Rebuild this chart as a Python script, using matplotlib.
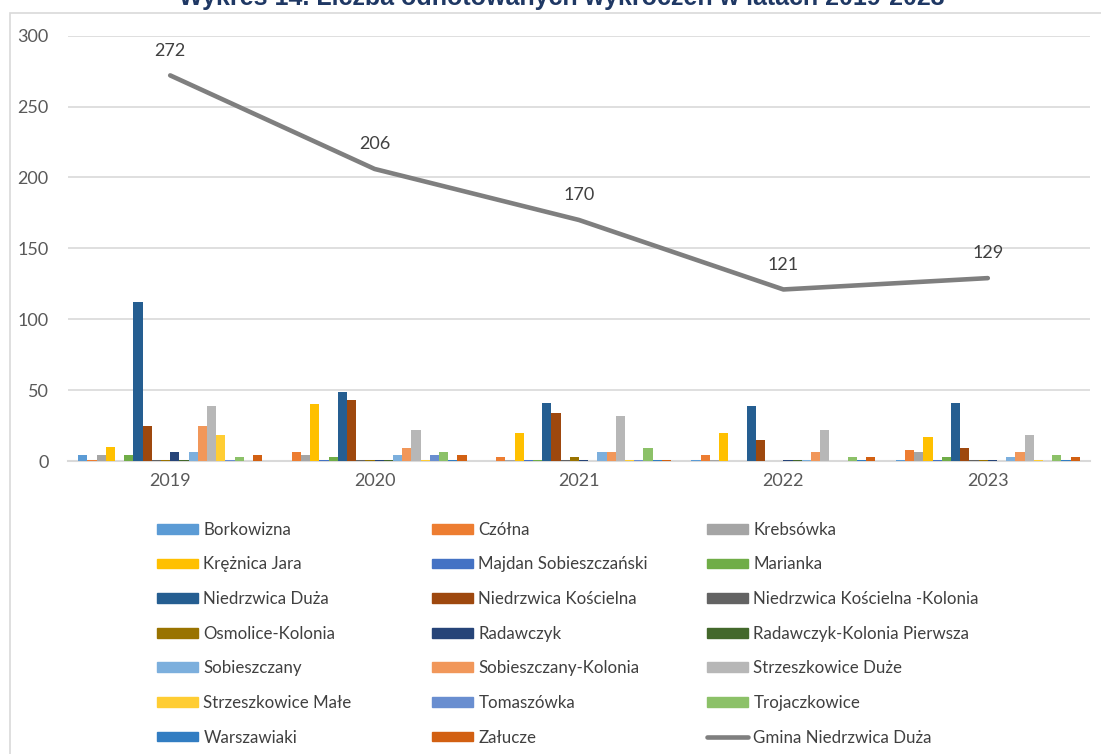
import matplotlib.pyplot as plt
import matplotlib.patches as mpatches
from matplotlib.lines import Line2D
import numpy as np

plt.rcParams['font.family'] = ['Lato', 'DejaVu Sans']

years = ['2019', '2020', '2021', '2022', '2023']

villages = [
    'Borkowizna', 'Czółna', 'Krebsówka', 'Krężnica Jara', 'Majdan Sobieszczański',
    'Marianka', 'Niedrzwica Duża', 'Niedrzwica Kościelna', 'Niedrzwica Kościelna -Kolonia',
    'Osmolice-Kolonia', 'Radawczyk', 'Radawczyk-Kolonia Pierwsza', 'Sobieszczany',
    'Sobieszczany-Kolonia', 'Strzeszkowice Duże', 'Strzeszkowice Małe', 'Tomaszówka',
    'Trojaczkowice', 'Warszawiaki', 'Załucze',
]

# counts per village for 2019..2023
borkowizna = [4, 0, 0, 1, 1]
czolna = [1, 6, 3, 4, 8]
krebsowka = [4, 4, 1, 1, 6]
kreznica_jara = [10, 40, 20, 20, 17]
majdan_sob = [0, 1, 1, 0, 1]
marianka = [4, 3, 1, 0, 3]
niedrzwica_duza = [112, 49, 41, 39, 41]
niedrzwica_koscielna = [25, 43, 34, 15, 9]
niedrzwica_k_kolonia = [1, 1, 1, 0, 1]
osmolice_kolonia = [1, 1, 3, 0, 1]
radawczyk = [6, 1, 1, 1, 1]
radawczyk_kp = [1, 1, 0, 1, 0]
sobieszczany = [6, 4, 6, 1, 3]
sobieszczany_kolonia = [25, 9, 6, 6, 6]
strzeszkowice_duze = [39, 22, 32, 22, 18]
strzeszkowice_male = [18, 1, 1, 0, 1]
tomaszowka = [1, 4, 1, 0, 0]
trojaczkowice = [3, 6, 9, 3, 4]
warszawiaki = [0, 1, 1, 1, 1]
zalucze = [4, 4, 1, 3, 3]

gmina_total = [272, 206, 170, 121, 129]

series = [
    borkowizna, czolna, krebsowka, kreznica_jara, majdan_sob, marianka,
    niedrzwica_duza, niedrzwica_koscielna, niedrzwica_k_kolonia, osmolice_kolonia,
    radawczyk, radawczyk_kp, sobieszczany, sobieszczany_kolonia, strzeszkowice_duze,
    strzeszkowice_male, tomaszowka, trojaczkowice, warszawiaki, zalucze,
]

colors = [
    '#5B9BD5', '#ED7D31', '#A5A5A5', '#FFC000', '#4472C4', '#70AD47',
    '#255E91', '#9E480E', '#636363', '#997300', '#264478', '#43682B',
    '#7CAFDD', '#F1975A', '#B7B7B7', '#FFCD33', '#698ED0', '#8CC168',
    '#327DC2', '#D26012',
]
line_color = '#7F7F7F'
text_color = '#595959'

fig = plt.figure(figsize=(11.01, 7.54), dpi=100)
ax = fig.add_axes([68 / 1101, 1 - 461 / 754, 1022 / 1101, 425.3 / 754])

x = np.arange(len(years))
n = len(series)
group = 0.9
w = group / n
for i, (vals, c) in enumerate(zip(series, colors)):
    ax.bar(x - group / 2 + w * (i + 0.5), vals, width=w, color=c, zorder=3)

ax.plot(x, gmina_total, color=line_color, lw=3.3, solid_capstyle='round', zorder=4)
for xi, v in zip(x, gmina_total):
    ax.annotate(str(v), (xi, v), xytext=(0, 12), textcoords='offset points',
                ha='center', va='bottom', fontsize=13, color='#404040')

ax.set_xlim(-0.5, len(years) - 0.5)
ax.set_ylim(0, 300)
ax.set_yticks(range(0, 301, 50))
ax.set_xticks(x)
ax.set_xticklabels(years)
ax.grid(axis='y', color='#D9D9D9', lw=1.2, zorder=0)
for s in ['left', 'right', 'top']:
    ax.spines[s].set_visible(False)
ax.spines['bottom'].set_color('#D9D9D9')
ax.spines['bottom'].set_linewidth(1.5)
ax.tick_params(axis='both', length=0, labelsize=13, labelcolor=text_color)
ax.tick_params(axis='y', pad=14)
ax.tick_params(axis='x', pad=9)

# outer chart frame (only left and top edges visible)
fig.patches.append(mpatches.Rectangle((10 / 1101, -0.05), 1.2, 1 - 13 / 754 + 0.05,
                                      transform=fig.transFigure, fill=False,
                                      edgecolor='#D9D9D9', lw=1.2, zorder=0))

# title partly cut off at the top, as in the source
fig.text(0.51, 1 - 5 / 754, 'Wykres 14. Liczba odnotowanych wykroczeń w latach 2019-2023',
         ha='center', va='baseline', fontsize=18, fontweight='bold',
         color='#1F3864', family=['Liberation Sans', 'DejaVu Sans'])

# legend: three columns, row-major order
handles = [mpatches.Patch(color=c) for c in colors]
handles.append(Line2D([], [], color=line_color, lw=3.3, solid_capstyle='round'))
labels = villages + ['Gmina Niedrzwica Duża']
col_x = [150, 425, 700]
for k in range(3):
    leg = fig.legend(handles[k::3], labels[k::3], loc='upper left',
                     bbox_to_anchor=(col_x[k] / 1101, 1 - 515 / 754),
                     frameon=False, fontsize=12.2, labelcolor='#404040',
                     handlelength=2.45, handleheight=0.5, handletextpad=0.3,
                     labelspacing=1.1, borderaxespad=0)

fig.savefig('out.png', dpi=100)
